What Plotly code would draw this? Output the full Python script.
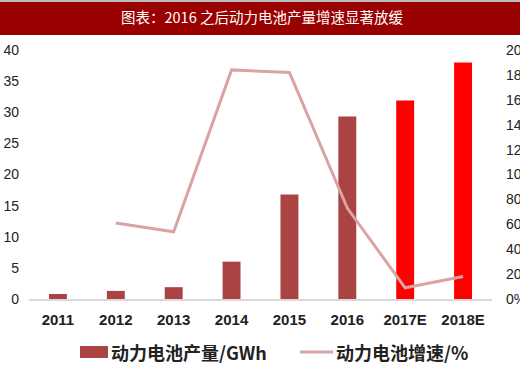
import plotly.graph_objects as go

categories = ["2011", "2012", "2013", "2014", "2015", "2016", "2017E", "2018E"]
output_gwh = [0.8, 1.3, 1.9, 6.0, 16.8, 29.3, 31.9, 38.0]
growth_pct = [None, 61, 54, 184, 182, 73, 9, 18]
bar_colors = ["#A94442"] * 6 + ["#FF0000"] * 2
title_text = "图表：2016 之后动力电池产量增速显著放缓"
legend_bar = "动力电池产量/GWh"
legend_line = "动力电池增速/%"

W, H = 520, 365
ml, mr, mt, mb = 29, 28, 50, 66
pw, ph = W - ml - mr, H - mt - mb

def px_x(p):
    return (p - ml) / pw

def px_y(p):
    return (H - mb - p) / ph

fig = go.Figure()
fig.add_trace(go.Bar(x=categories, y=output_gwh, marker=dict(color=bar_colors, line=dict(width=0)),
                     width=0.31, name=legend_bar, yaxis="y"))
fig.add_trace(go.Scatter(x=categories, y=growth_pct, mode="lines", line=dict(color="#DBA3A3", width=3),
                         name=legend_line, yaxis="y2", connectgaps=False))

tickf = dict(family="Liberation Sans, Arial", size=14, color="#222222")
fig.update_layout(
    width=W, height=H, margin=dict(l=ml, r=mr, t=mt, b=mb, pad=0, autoexpand=False),
    paper_bgcolor="white", plot_bgcolor="white", showlegend=False,
    xaxis=dict(type="category", showgrid=False, showline=True, linecolor="#D9D9D9", linewidth=2,
               ticks="", tickfont=dict(family="Liberation Sans, Arial", size=15, color="#222222", weight="bold"),
               ticklabelstandoff=6, range=[-0.5, 7.5], automargin=False),
    yaxis=dict(range=[0, 40], dtick=5, showgrid=False, zeroline=False, showline=False, ticks="",
               tickfont=tickf, ticklabelstandoff=9, automargin=False),
    yaxis2=dict(range=[0, 200], dtick=20, overlaying="y", side="right", showgrid=False, zeroline=False,
                showline=False, ticks="", ticksuffix="%", tickfont=tickf, ticklabelstandoff=13,
                automargin=False),
)

# title banner
fig.add_shape(type="rect", xref="paper", yref="paper", x0=px_x(0), x1=px_x(W), y0=px_y(35), y1=px_y(2),
              fillcolor="#990000", line=dict(width=0), layer="above")
fig.add_shape(type="line", xref="paper", yref="paper", x0=px_x(0), x1=px_x(W), y0=px_y(1), y1=px_y(1),
              line=dict(color="#BBBBBB", width=2))
fig.add_annotation(text=title_text, xref="paper", yref="paper", x=px_x(262), y=px_y(17), showarrow=False,
                   xanchor="center", yanchor="middle",
                   font=dict(family="Noto Sans CJK SC", size=14.5, color="white"))

# legend
ly = px_y(352)
fig.add_shape(type="rect", xref="paper", yref="paper", x0=px_x(80), x1=px_x(108), y0=px_y(358), y1=px_y(346),
              fillcolor="#A94442", line=dict(width=0))
fig.add_annotation(text=legend_bar, xref="paper", yref="paper", x=px_x(109), y=ly, showarrow=False,
                   xanchor="left", yanchor="middle",
                   font=dict(family="Noto Sans CJK SC", size=18, color="#222222", weight="bold"))
fig.add_shape(type="line", xref="paper", yref="paper", x0=px_x(300), x1=px_x(333), y0=ly, y1=ly,
              line=dict(color="#DBA3A3", width=3))
fig.add_annotation(text=legend_line, xref="paper", yref="paper", x=px_x(334), y=ly, showarrow=False,
                   xanchor="left", yanchor="middle",
                   font=dict(family="Noto Sans CJK SC", size=18, color="#222222", weight="bold"))

fig.write_html("out.html")
